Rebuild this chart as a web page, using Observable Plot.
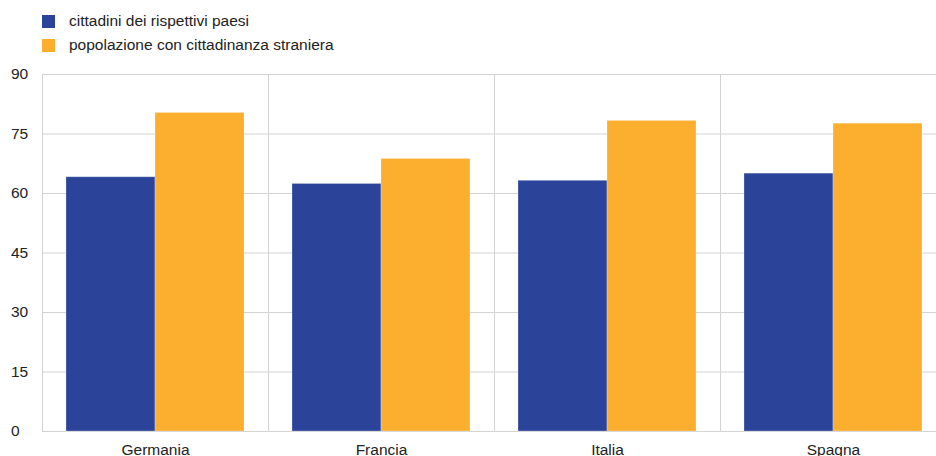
<!DOCTYPE html>
<html>
<head>
<meta charset="utf-8">
<script src="https://cdn.jsdelivr.net/npm/d3@7"></script>
<script src="https://cdn.jsdelivr.net/npm/@observablehq/plot@0.6"></script>
<style>
  html, body { margin: 0; padding: 0; background: #fff; overflow: hidden; }
  body { width: 936px; height: 456px; font-family: "Liberation Sans", Arial, sans-serif; }
  #legend { height: 60px; position: relative; }
  .item { position: absolute; left: 42px; height: 14px; font-size: 15.5px; color: #222; display: flex; align-items: center; white-space: nowrap; }
  .sw { width: 13px; height: 13px; margin-right: 14px; display: inline-block; }
  #chart svg { display: block; }
</style>
</head>
<body>
<div id="legend"></div>
<div id="chart"></div>
<script>
const countries = ["Germania", "Francia", "Italia", "Spagna"];
const seriesNames = ["cittadini dei rispettivi paesi", "popolazione con cittadinanza straniera"];
const citizens = [64.1, 62.4, 63.2, 65.0];
const foreigners = [80.3, 68.7, 78.3, 77.6];
const yTicks = [0, 15, 30, 45, 60, 75, 90];
const colors = ["#2b449a", "#fcae2f"];

const data = [];
countries.forEach((c, i) => {
  data.push({country: c, series: seriesNames[0], value: citizens[i]});
  data.push({country: c, series: seriesNames[1], value: foreigners[i]});
});

const legend = document.getElementById("legend");
seriesNames.forEach((s, i) => {
  const d = document.createElement("div");
  d.className = "item";
  d.style.top = (14 + i * 24) + "px";
  d.innerHTML = `<span class="sw" style="background:${colors[i]}"></span><span>${s}</span>`;
  legend.appendChild(d);
});

const chart = Plot.plot({
  width: 936,
  height: 396,
  marginTop: 14,
  marginBottom: 25,
  marginLeft: 42,
  marginRight: 0,
  style: {fontFamily: "Liberation Sans, Arial, sans-serif", fontSize: "15.5px", color: "#222", background: "#fff"},
  fx: {domain: countries, range: [42, 946], padding: 0, label: null},
  x: {domain: seriesNames, paddingInner: 0, paddingOuter: 0.2556, axis: null},
  y: {domain: [0, 90], label: null},
  color: {domain: seriesNames, range: colors},
  marks: [
    Plot.ruleY(yTicks, {stroke: "#d3d3d3", strokeWidth: 1}),
    Plot.frame({anchor: "left", stroke: "#d3d3d3"}),
    Plot.barY(data, {fx: "country", x: "series", y: "value", fill: "series", stroke: "#ffffff", strokeOpacity: 0.25, strokeWidth: 1}),
    Plot.axisY({ticks: yTicks, tickSize: 0, tickPadding: 0, textAnchor: "start", dx: -31.5, fontSize: 15.5, label: null}),
    Plot.axisFx({anchor: "bottom", tickSize: 0, tickPadding: 12, fontSize: 15.5, label: null})
  ]
});
document.getElementById("chart").appendChild(chart);
</script>
</body>
</html>
